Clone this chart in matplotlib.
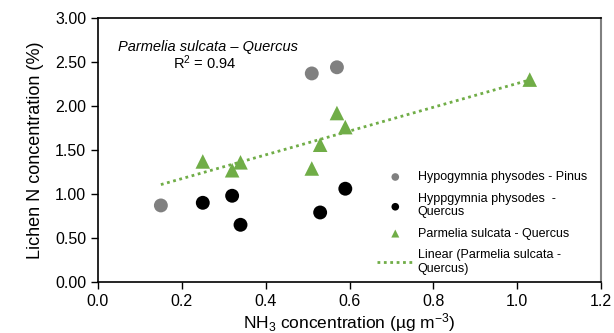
import matplotlib.pyplot as plt
import numpy as np

plt.rcParams["font.family"] = ["Liberation Sans", "DejaVu Sans"]
plt.rcParams["mathtext.fontset"] = "custom"
plt.rcParams["mathtext.rm"] = "Liberation Sans"
plt.rcParams["mathtext.it"] = "Liberation Sans:italic"

# Hypogymnia physodes on Pinus
pinus_x = [0.15, 0.51, 0.57]
pinus_y = [0.87, 2.37, 2.44]

# Hypogymnia physodes on Quercus
hypo_q_x = [0.25, 0.32, 0.34, 0.53, 0.59]
hypo_q_y = [0.90, 0.98, 0.65, 0.79, 1.06]

# Parmelia sulcata on Quercus
parm_x = [0.25, 0.32, 0.34, 0.51, 0.53, 0.57, 0.59, 1.03]
parm_y = [1.37, 1.27, 1.36, 1.29, 1.56, 1.92, 1.76, 2.30]

trend_x = [0.15, 1.03]

x_ticks = [0.0, 0.2, 0.4, 0.6, 0.8, 1.0, 1.2]
y_ticks = [0.0, 0.5, 1.0, 1.5, 2.0, 2.5, 3.0]

fig = plt.figure(figsize=(6.14, 3.33), dpi=100)
ax = fig.add_axes([98 / 614, 51 / 333, 503 / 614, 264 / 333])

ax.scatter(pinus_x, pinus_y, s=100, color="#808080", edgecolors="none",
           label="Hypogymnia physodes - Pinus", zorder=3)
ax.scatter(hypo_q_x, hypo_q_y, s=100, color="black", edgecolors="none",
           label="Hyppgymnia physodes  -\nQuercus", zorder=3)
ax.scatter(parm_x, parm_y, s=110, marker="^", color="#70AD47", edgecolors="none",
           label="Parmelia sulcata - Quercus", zorder=3)

# linear trend of the Parmelia series
slope, intercept = np.polyfit(parm_x, parm_y, 1)
tx = np.array(trend_x)
ax.plot(tx, slope * tx + intercept, linestyle=(0, (1, 1.3)), color="#70AD47",
        linewidth=2, label="Linear (Parmelia sulcata -\nQuercus)", zorder=2)

ax.set_xlim(0, 1.2)
ax.set_ylim(0, 3.0)
ax.set_xticks(x_ticks)
ax.set_xticklabels([f"{v:.1f}" for v in x_ticks])
ax.set_yticks(y_ticks)
ax.set_yticklabels([f"{v:.2f}" for v in y_ticks])
ax.tick_params(axis="both", direction="out", length=5, width=1, labelsize=11.5,
               color="black")

for side in ["left", "bottom", "top"]:
    ax.spines[side].set_color("black")
    ax.spines[side].set_linewidth(1.2)
ax.spines["right"].set_color("#808080")
ax.spines["right"].set_linewidth(1.5)

ax.set_ylabel("Lichen N concentration (%)", fontsize=13, labelpad=8)
ax.set_xlabel("NH$_3$ concentration (µg m$^{\\mathregular{-3}}$)", fontsize=12.5,
              labelpad=2)

ax.text(0.048, 2.67, "Parmelia sulcata – Quercus", style="italic", fontsize=10.5,
        ha="left", va="center")
ax.text(0.180, 2.49, "R$^2$ = 0.94", fontsize=10.5, ha="left", va="center")

leg = ax.legend(loc="center left", bbox_to_anchor=(0.555, 0.223), frameon=False,
                fontsize=9, markerscale=0.55, handlelength=2.9,
                labelspacing=0.75, borderpad=0, borderaxespad=0,
                handletextpad=0.35)

fig.savefig("out.png", dpi=100)
